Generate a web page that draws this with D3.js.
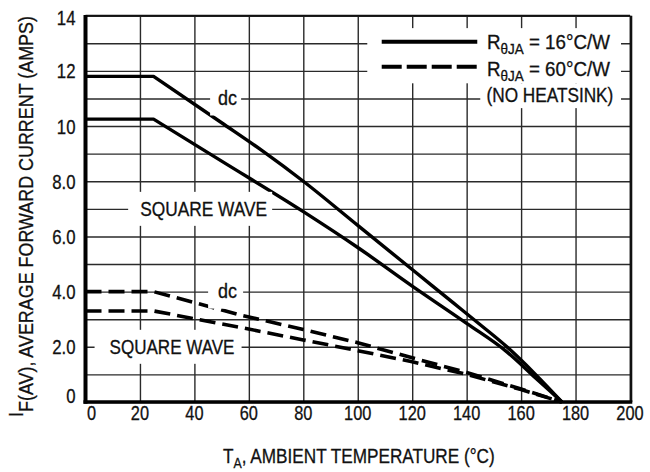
<!DOCTYPE html>
<html>
<head>
<meta charset="utf-8">
<script src="https://cdn.jsdelivr.net/npm/d3@7"></script>
<style>
  html, body { margin: 0; padding: 0; background: #fff; }
  svg { display: block; }
  text { font-family: "Liberation Sans", Arial, Helvetica, sans-serif; fill: #111; stroke: #111; stroke-width: 0.3px; }
</style>
</head>
<body>
<svg id="chart" width="650" height="472"></svg>
<script>
// ---------- data ----------
const xTicks = [0, 20, 40, 60, 80, 100, 120, 140, 160, 180, 200];
const yTicks = [0, 2, 4, 6, 8, 10, 12, 14];
const yTickLabels = ["0", "2.0", "4.0", "6.0", "8.0", "10", "12", "14"];

// R_thetaJA = 16 C/W (solid)
const dc16Temp = [0, 25, 50, 65, 80, 100, 120, 135, 145, 155, 165, 175];
const dc16Amps = [11.8, 11.8, 10.12, 9.1, 8.0, 6.4, 4.8, 3.6, 2.8, 1.98, 1.03, 0];
const sq16Temp = [0, 25, 50, 80, 100, 120, 140, 155, 165, 175];
const sq16Amps = [10.25, 10.25, 8.73, 6.9, 5.6, 4.2, 2.85, 1.8, 0.9, 0];
// R_thetaJA = 60 C/W (dashed, no heatsink)
const dc60Temp = [0, 25, 57, 80, 100, 120, 140, 160, 175];
const dc60Amps = [4.0, 4.0, 3.15, 2.63, 2.15, 1.6, 1.07, 0.47, 0];
const sq60Temp = [0, 25, 57, 80, 100, 120, 140, 160, 175];
const sq60Amps = [3.3, 3.3, 2.7, 2.25, 1.86, 1.46, 1.0, 0.45, 0];

const curveLabels = ["dc", "SQUARE WAVE", "dc", "SQUARE WAVE"];
const legendLabels = ["16", "60"];

(function () {
// ---------- layout ----------
const pL = 85.5, pR = 630, pT = 15.7, pB = 402;
const fs = 19.5;
const svg = d3.select("#chart");
const x = d3.scaleLinear().domain([0, 200]).range([pL, pR]);
const y = d3.scaleLinear().domain([0, 14]).range([pB, pT]);

// condensed-text helper: text drawn in Liberation Sans and squeezed horizontally
function ctext(px, py, build, opt) {
  const g = svg.append("g").attr("transform", `translate(${px},${py})` + (opt.rot ? ` rotate(${opt.rot})` : ""));
  const t = g.append("text").attr("text-anchor", opt.anchor || "start").attr("font-size", opt.fs || fs);
  build(t);
  let k = opt.k || 0.9;
  if (opt.target) k = opt.target / t.node().getComputedTextLength();
  t.attr("transform", `scale(${k},1)`);
  return t;
}

const zip = (a, b) => a.map((v, i) => [v, b[i]]);
const series = [
  { pts: zip(dc16Temp, dc16Amps), dash: null },
  { pts: zip(sq16Temp, sq16Amps), dash: null },
  { pts: zip(dc60Temp, dc60Amps), dash: "16,7" },
  { pts: zip(sq60Temp, sq60Amps), dash: "16,7" }
];

// ---------- grid ----------
const grid = svg.append("g").attr("class", "grid");
grid.append("g")
  .attr("transform", `translate(0,${pB})`)
  .call(d3.axisBottom(x).tickValues(xTicks).tickSize(-(pB - pT)).tickFormat(""))
  .call(g => g.select(".domain").remove())
  .call(g => g.selectAll("line").attr("stroke", "#2a2a2a").attr("stroke-width", 1.4));
grid.append("g")
  .attr("transform", `translate(${pL},0)`)
  .call(d3.axisLeft(y).tickValues(d3.range(0, 15)).tickSize(-(pR - pL)).tickFormat(""))
  .call(g => g.select(".domain").remove())
  .call(g => g.selectAll("line").attr("stroke", "#2a2a2a").attr("stroke-width", 1.4));

// ---------- white knockouts behind legend ----------
function knockRect(x0, y0, x1, y1) {
  svg.append("rect").attr("x", x0).attr("y", y0).attr("width", x1 - x0).attr("height", y1 - y0).attr("fill", "#fff");
}
knockRect(x(103.5), y(13.55), x(196.7), y(11.55));
knockRect(x(145), y(11.55), x(196.7), y(10.65));

// ---------- frame ----------
svg.append("line").attr("x1", pL).attr("x2", pR).attr("y1", pT).attr("y2", pT).attr("stroke", "#111").attr("stroke-width", 1.8);
svg.append("line").attr("x1", pR + 1).attr("x2", pR + 1).attr("y1", pT).attr("y2", pB).attr("stroke", "#111").attr("stroke-width", 2.6);
svg.append("line").attr("x1", pL).attr("x2", pL).attr("y1", pT - 0.8).attr("y2", pB + 1.8).attr("stroke", "#000").attr("stroke-width", 4);
svg.append("line").attr("x1", pL - 2).attr("x2", pR + 2.3).attr("y1", pB).attr("y2", pB).attr("stroke", "#000").attr("stroke-width", 3.6);

// ---------- tick labels ----------
xTicks.forEach(d => ctext(x(d) + (d === 0 ? 6 : 0), 419.5, t => t.text(d), { anchor: "middle", k: 0.84 }));
yTicks.forEach((d, i) => ctext(75.5, y(d) + 7.5 + (d === 14 ? 1.5 : 0) + (d === 0 ? -6.5 : 0),
  t => t.text(yTickLabels[i]), { anchor: "end", k: 0.86 }));

// ---------- curves ----------
// flat segment drawn straight, derating part drawn as smooth monotone curve
const lin = d3.line().x(d => x(d[0])).y(d => y(d[1]));
const smooth = d3.line().x(d => x(d[0])).y(d => y(d[1])).curve(d3.curveMonotoneX);
function pathFor(s) {
  if (s.dash) return lin(s.pts);
  return "M" + x(s.pts[0][0]) + "," + y(s.pts[0][1]) + "L" + smooth(s.pts.slice(1)).slice(1);
}
svg.append("g").selectAll("path").data(series).join("path")
  .attr("d", d => pathFor(d))
  .attr("fill", "none")
  .attr("stroke", "#000")
  .attr("stroke-width", d => d.dash ? 3.6 : 3.4)
  .attr("stroke-linejoin", "round")
  .attr("stroke-dasharray", d => d.dash);

// ---------- curve annotations ----------
const ann = [
  { tx: 52.2, ty: 11, padL: 8, padR: 4, len: 19 },
  { tx: 43.4, ty: 7, padL: 12, padR: 5, len: 127 },
  { tx: 52.2, ty: 4, padL: 10, padR: 6, len: 19 },
  { tx: 31.8, ty: 2, padL: 15, padR: 7, len: 125 }
];
ann.forEach((a, i) => {
  const cx = x(a.tx), cy = y(a.ty);
  svg.append("rect")
    .attr("x", cx - a.len / 2 - a.padL).attr("y", cy - 17)
    .attr("width", a.len + a.padL + a.padR).attr("height", 34)
    .attr("fill", "#fff");
  ctext(cx - a.len / 2, cy + 6.8, t => t.text(curveLabels[i]), { target: a.len });
});

// ---------- legend ----------
const lx0 = x(108.8), lx1 = x(143.9);
svg.append("line").attr("x1", lx0).attr("x2", lx1).attr("y1", 41.7).attr("y2", 41.7)
  .attr("stroke", "#000").attr("stroke-width", 4);
svg.append("line").attr("x1", lx0).attr("x2", lx1).attr("y1", 66.7).attr("y2", 66.7)
  .attr("stroke", "#000").attr("stroke-width", 4).attr("stroke-dasharray", "20,5");
[49, 76].forEach((yb, i) => ctext(487, yb, t => {
  t.append("tspan").text("R");
  t.append("tspan").attr("font-size", 14).attr("dy", 4.5).text("θJA");
  t.append("tspan").attr("dy", -4.5).text(" = " + legendLabels[i] + "°C/W");
}, { target: 123 }));
ctext(486.5, 102, t => t.text("(NO HEATSINK)"), { target: 127 });

// ---------- axis titles ----------
ctext(223, 463, t => {
  t.append("tspan").text("T");
  t.append("tspan").attr("font-size", 14).attr("dy", 4.5).text("A");
  t.append("tspan").attr("dy", -4.5).text(", AMBIENT TEMPERATURE (°C)");
}, { target: 272 });

ctext(33, 417, t => {
  t.append("tspan").attr("dy", -10).text("I");
  t.append("tspan").attr("dy", 10).text("F(AV), AVERAGE FORWARD CURRENT (AMPS)");
}, { rot: -90, target: 401 });
})();
</script>
</body>
</html>
